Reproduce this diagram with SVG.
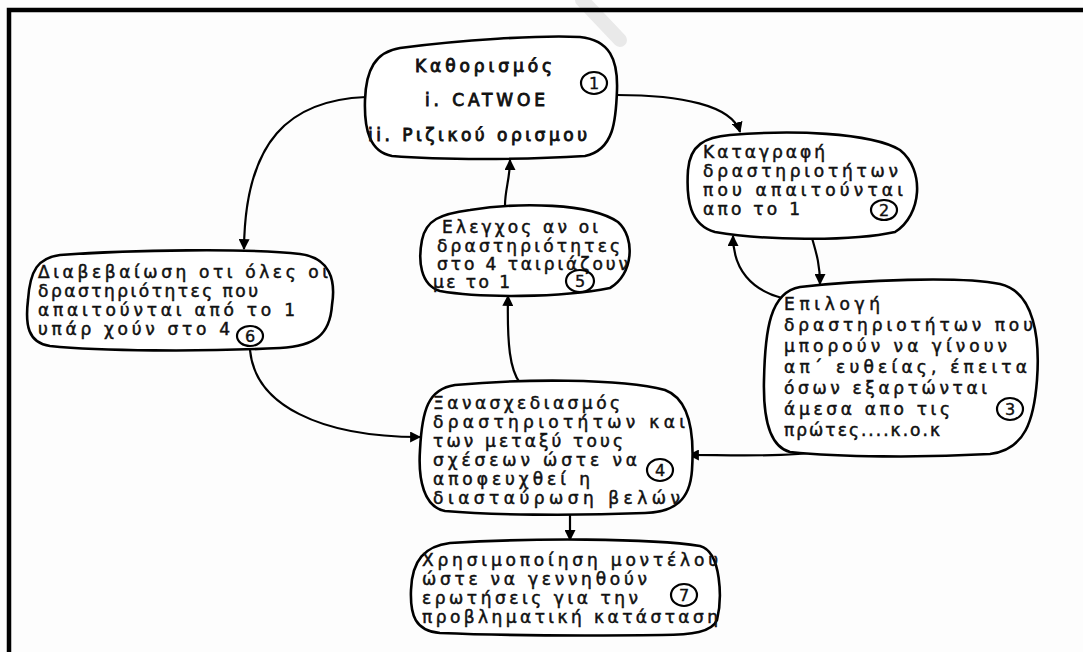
<svg xmlns="http://www.w3.org/2000/svg" width="1083" height="652" viewBox="0 0 1083 652">
  <defs>
    <marker id="arrow" viewBox="0 0 10 10" refX="9" refY="5" markerWidth="11" markerHeight="11" markerUnits="userSpaceOnUse" orient="auto">
      <path d="M0,0 L10,5 L0,10 Z" fill="#000"/>
    </marker>
    <style>
      .blob { fill: #fff; stroke: #000; stroke-width: 2.6; }
      .edge { fill: none; stroke: #000; stroke-width: 2.2; marker-end: url(#arrow); }
      .txt { font-family: "DejaVu Sans", "Liberation Sans", sans-serif; font-size: 17px; fill: #111; stroke: #111; stroke-width: 0.5; }
      .head { stroke-width: 0.9; }
      .num { fill: none; stroke: #000; stroke-width: 2.2; }
      .numtxt { font-family: "DejaVu Sans", "Liberation Sans", sans-serif; font-size: 16px; fill: #111; stroke: #111; stroke-width: 0.4; text-anchor: middle; }
    </style>
  </defs>

  <rect width="1083" height="652" fill="#fdfdfd"/>
  <!-- faint stroke at the top edge -->
  <path d="M582 0 L620 40" stroke="#e4e4e4" stroke-width="14" stroke-linecap="round" fill="none" opacity="0.8"/>

  <!-- frame -->
  <path d="M9 652 L9 10 L1083 10" fill="none" stroke="#000" stroke-width="4.5"/>

  <g id="connectors">
    <path class="edge" d="M366 97 C 290 100, 245 140, 244 249"/>
    <path class="edge" d="M617 95 C 680 95, 732 105, 740 132"/>
    <path class="edge" d="M812 238 C 816 252, 820 264, 820 284"/>
    <path class="edge" d="M782 298 C 752 290, 733 270, 733 236"/>
    <path class="edge" d="M838 448 C 800 458, 735 455, 689 455"/>
    <path class="edge" d="M250 350 C 255 405, 320 437, 420 437"/>
    <path class="edge" d="M520 383 C 510 370, 507 345, 508 296"/>
    <path class="edge" d="M505 205 C 505 190, 510 178, 510 160"/>
    <path class="edge" d="M570 513 L 570 540"/>
  </g>

  <g id="node1">
    <path class="blob" d="M400 48 C 460 40, 540 35, 580 37 C 610 40, 618 60, 617 90 C 616 120, 614 150, 585 156 C 520 160, 440 160, 392 156 C 370 152, 364 130, 365 100 C 366 70, 375 52, 400 48 Z"/>
    <text class="txt head" x="415" y="72" textLength="137" lengthAdjust="spacing">Καθορισμός</text>
    <text class="txt head" x="425" y="106" textLength="120" lengthAdjust="spacing">i. CATWOE</text>
    <text class="txt head" x="368" y="141" textLength="219" lengthAdjust="spacing">ii. Ριζικού ορισμου</text>
    <ellipse class="num" cx="594" cy="83" rx="13" ry="11"/>
    <text class="numtxt" x="594" y="89">1</text>
  </g>

  <g id="node2">
    <path class="blob" d="M730 135 C 790 130, 870 132, 900 150 C 925 170, 922 215, 895 232 C 850 242, 760 240, 715 232 C 690 225, 686 200, 688 170 C 690 145, 705 137, 730 135 Z"/>
    <text class="txt" x="703" y="158" textLength="122" lengthAdjust="spacing">Καταγραφή</text>
    <text class="txt" x="703" y="177" textLength="195" lengthAdjust="spacing">δραστηριοτήτων</text>
    <text class="txt" x="703" y="196" textLength="200" lengthAdjust="spacing">που απαιτούνται</text>
    <text class="txt" x="703" y="215" textLength="97" lengthAdjust="spacing">απο το 1</text>
    <ellipse class="num" cx="884" cy="210" rx="13" ry="10"/>
    <text class="numtxt" x="884" y="216">2</text>
  </g>

  <g id="node3">
    <path class="blob" d="M800 287 C 860 280, 960 276, 1000 284 C 1035 292, 1040 340, 1037 380 C 1034 420, 1025 450, 990 454 C 920 458, 840 457, 790 452 C 770 447, 763 420, 764 380 C 765 330, 770 292, 800 287 Z"/>
    <text class="txt" x="784" y="310" textLength="96" lengthAdjust="spacing">Επιλογή</text>
    <text class="txt" x="784" y="331" textLength="249" lengthAdjust="spacing">δραστηριοτήτων που</text>
    <text class="txt" x="784" y="352" textLength="223" lengthAdjust="spacing">μπορούν να γίνουν</text>
    <text class="txt" x="784" y="373" textLength="243" lengthAdjust="spacing">απ΄ ευθείας, έπειτα</text>
    <text class="txt" x="784" y="394" textLength="203" lengthAdjust="spacing">όσων εξαρτώνται</text>
    <text class="txt" x="784" y="415" textLength="166" lengthAdjust="spacing">άμεσα απο τις</text>
    <text class="txt" x="784" y="436" textLength="156" lengthAdjust="spacing">πρώτες....κ.ο.κ</text>
    <ellipse class="num" cx="1010" cy="409" rx="13" ry="11"/>
    <text class="numtxt" x="1010" y="415">3</text>
  </g>

  <g id="node4">
    <path class="blob" d="M455 385 C 520 379, 620 378, 665 390 C 692 400, 694 440, 692 470 C 690 500, 675 512, 645 513 C 570 516, 490 515, 445 511 C 424 507, 418 480, 420 450 C 422 410, 428 389, 455 385 Z"/>
    <text class="txt" x="433" y="409" textLength="187" lengthAdjust="spacing">Ξανασχεδιασμός</text>
    <text class="txt" x="433" y="428" textLength="252" lengthAdjust="spacing">δραστηριοτήτων και</text>
    <text class="txt" x="433" y="447" textLength="190" lengthAdjust="spacing">των μεταξύ τους</text>
    <text class="txt" x="433" y="466" textLength="204" lengthAdjust="spacing">σχέσεων ώστε να</text>
    <text class="txt" x="433" y="485" textLength="157" lengthAdjust="spacing">αποφευχθεί η</text>
    <text class="txt" x="433" y="504" textLength="247" lengthAdjust="spacing">διασταύρωση βελών</text>
    <ellipse class="num" cx="660" cy="470" rx="13" ry="11"/>
    <text class="numtxt" x="660" y="476">4</text>
  </g>

  <g id="node5">
    <path class="blob" d="M470 210 C 520 202, 590 203, 618 222 C 636 238, 633 275, 610 288 C 560 298, 480 298, 440 291 C 420 285, 418 260, 422 240 C 426 220, 440 214, 470 210 Z"/>
    <text class="txt" x="442" y="233" textLength="156" lengthAdjust="spacing">Ελεγχος αν οι</text>
    <text class="txt" x="437" y="252" textLength="183" lengthAdjust="spacing">δραστηριότητες</text>
    <text class="txt" x="437" y="270" textLength="191" lengthAdjust="spacing">στο 4 ταιριάζουν</text>
    <text class="txt" x="433" y="288" textLength="77" lengthAdjust="spacing">με το 1</text>
    <ellipse class="num" cx="580" cy="281" rx="14" ry="11"/>
    <text class="numtxt" x="580" y="287">5</text>
  </g>

  <g id="node6">
    <path class="blob" d="M60 255 C 130 250, 250 248, 300 254 C 330 258, 336 280, 332 305 C 330 335, 315 346, 280 348 C 200 352, 100 351, 50 346 C 28 343, 25 325, 28 300 C 30 270, 38 258, 60 255 Z"/>
    <text class="txt" x="38" y="278" textLength="290" lengthAdjust="spacing">Διαβεβαίωση οτι όλες οι</text>
    <text class="txt" x="38" y="297" textLength="220" lengthAdjust="spacing">δραστηριότητες που</text>
    <text class="txt" x="38" y="316" textLength="257" lengthAdjust="spacing">απαιτούνται από το 1</text>
    <text class="txt" x="38" y="335" textLength="192" lengthAdjust="spacing">υπάρ χούν στο 4</text>
    <ellipse class="num" cx="250" cy="336" rx="13" ry="10"/>
    <text class="numtxt" x="250" y="342">6</text>
  </g>

  <g id="node7">
    <path class="blob" d="M450 543 C 530 538, 650 538, 700 546 C 722 552, 722 600, 717 620 C 712 632, 692 635, 662 635 C 580 636, 490 635, 440 633 C 415 631, 410 615, 411 590 C 412 560, 425 546, 450 543 Z"/>
    <text class="txt" x="422" y="566" textLength="296" lengthAdjust="spacing">Χρησιμοποίηση μοντέλου</text>
    <text class="txt" x="422" y="585" textLength="225" lengthAdjust="spacing">ώστε να γεννηθούν</text>
    <text class="txt" x="422" y="604" textLength="216" lengthAdjust="spacing">ερωτήσεις για την</text>
    <text class="txt" x="422" y="623" textLength="296" lengthAdjust="spacing">προβληματική κατάσταση</text>
    <ellipse class="num" cx="684" cy="595" rx="13" ry="11"/>
    <text class="numtxt" x="684" y="601">7</text>
  </g>
</svg>
